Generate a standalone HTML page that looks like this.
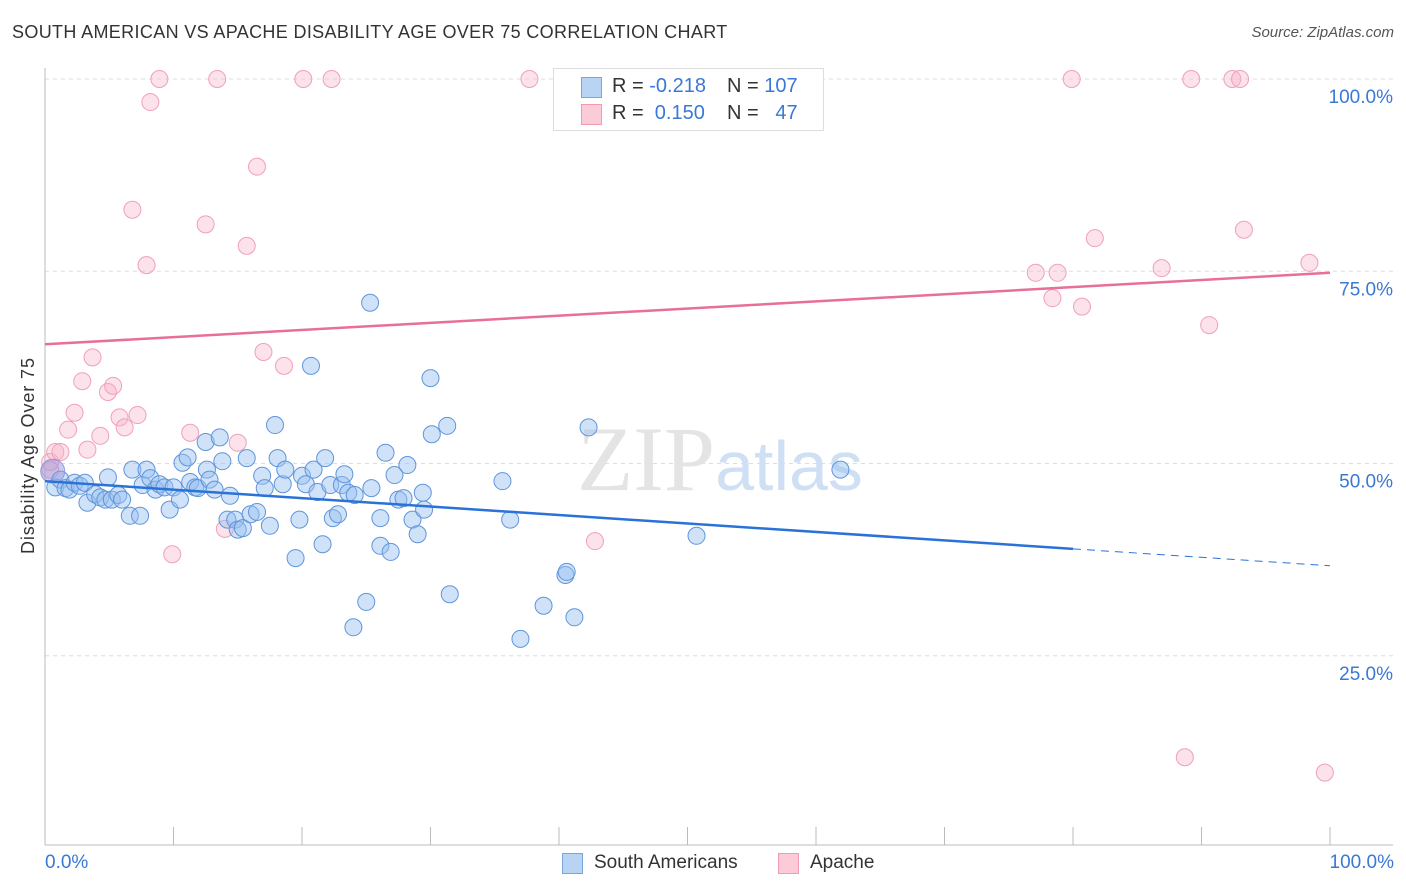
<!DOCTYPE html>
<html><head><meta charset="utf-8"><style>
body{margin:0;background:#fff;font-family:"Liberation Sans",sans-serif;}
#wrap{position:relative;width:1406px;height:892px;overflow:hidden}
.t{position:absolute;white-space:nowrap}
</style></head><body><div id="wrap">
<div class="t" style="left:12px;top:22px;font-size:18px;letter-spacing:0.35px;color:#333">SOUTH AMERICAN VS APACHE DISABILITY AGE OVER 75 CORRELATION CHART</div>
<div class="t" style="right:12px;top:24px;font-size:15px;color:#555;font-style:italic">Source: ZipAtlas.com</div>
<div class="t" style="font-size:18px;letter-spacing:0.9px;color:#333;transform:rotate(-90deg);transform-origin:0 0;left:18px;top:554px">Disability Age Over 75</div>
<svg id="svg" width="1406" height="892" style="position:absolute;left:0;top:0"></svg>
<div class="t" style="left:553px;top:68px;width:269px;height:61px;border:1px solid #ddd;background:#fff;font-size:20px">
 <div style="position:absolute;left:27px;top:8px;width:19px;height:19px;background:#b8d3f3;border:1px solid #7aa6e0"></div>
 <div class="t" style="left:58px;top:6px;color:#333">R = <span style="color:#3a78d6">-0.218</span></div>
 <div class="t" style="left:173px;top:6px;color:#333">N = <span style="color:#3a78d6">107</span></div>
 <div style="position:absolute;left:27px;top:35px;width:19px;height:19px;background:#fbcbd8;border:1px solid #f09ab3"></div>
 <div class="t" style="left:58px;top:33px;color:#333">R = &nbsp;<span style="color:#3a78d6">0.150</span></div>
 <div class="t" style="left:173px;top:33px;color:#333">N = &nbsp;&nbsp;<span style="color:#3a78d6">47</span></div>
</div>
<div class="t" style="left:562px;top:853px;width:19px;height:19px;background:#b8d3f3;border:1px solid #7aa6e0"></div>
<div class="t" style="left:594px;top:852px;font-size:19px;color:#333">South Americans</div>
<div class="t" style="left:778px;top:853px;width:19px;height:19px;background:#fbcbd8;border:1px solid #f09ab3"></div>
<div class="t" style="left:810px;top:852px;font-size:19px;color:#333">Apache</div>
<div class="t" style="left:45px;top:852px;font-size:19px;color:#3a78d6">0.0%</div>
<div class="t" style="right:12px;top:852px;font-size:19px;color:#3a78d6">100.0%</div>
</div>
<script>
const blueX=[0.8,1.2,1.6,1.9,2.3,2.7,3.1,3.3,3.9,4.3,4.7,4.9,5.2,5.7,6.0,6.6,6.8,7.4,7.6,7.9,8.2,8.6,8.9,9.3,9.7,10.0,10.5,10.7,11.1,11.3,11.7,11.9,12.5,12.6,12.8,13.2,13.6,13.8,14.2,14.4,14.8,15.0,15.4,15.7,16.0,16.5,16.9,17.1,17.5,17.9,18.1,18.5,18.7,19.5,19.8,20.0,20.3,20.7,20.9,21.2,21.6,21.8,22.2,22.4,22.8,23.1,23.3,23.6,24.1,24.0,25.0,25.3,25.4,26.1,26.1,26.5,26.9,27.2,27.5,27.9,28.2,28.6,29.0,29.4,29.5,30.0,30.1,31.3,31.5,35.6,36.2,37.0,38.8,40.5,40.6,41.2,42.3,50.7,61.9];
const blueY=[46.9,47.9,46.8,46.6,47.5,47.1,47.5,44.9,46.0,45.6,45.3,48.2,45.3,45.9,45.3,43.2,49.2,43.2,47.2,49.2,48.1,46.6,47.3,46.9,44.0,46.9,45.3,50.1,50.8,47.6,46.9,46.8,52.8,49.2,47.9,46.6,53.4,50.3,42.7,45.8,42.7,41.4,41.6,50.7,43.4,43.7,48.4,46.8,41.9,55.0,50.7,47.3,49.2,37.7,42.7,48.4,47.3,62.7,49.2,46.3,39.5,50.7,47.2,42.9,43.4,47.2,48.6,46.2,45.9,28.7,32.0,70.9,46.8,42.9,39.3,51.4,38.5,48.5,45.3,45.5,49.8,42.7,40.8,46.2,44.0,61.1,53.8,54.9,33.0,47.7,42.7,27.2,31.5,35.5,35.9,30.0,54.7,40.6,49.2];
const pinkX=[0.4,0.8,1.2,0.4,1.8,2.3,2.9,3.3,3.7,4.3,4.9,5.3,5.8,6.2,7.2,6.8,7.9,8.2,8.9,9.9,11.3,12.5,13.4,14.0,15.0,15.7,16.5,17.0,18.6,20.1,22.3,37.7,42.8,77.1,78.4,78.8,79.9,80.7,81.7,86.9,88.7,89.2,90.6,92.4,93.0,93.3,98.4,99.6];
const pinkY=[50.2,51.5,51.5,49.2,54.4,56.6,60.7,51.8,63.8,53.6,59.3,60.1,56.0,54.7,56.3,83.0,75.8,97.0,100,38.2,54.0,81.1,100,41.5,52.7,78.3,88.6,64.5,62.7,100,100,100,39.9,74.8,71.5,74.8,100,70.4,79.3,75.4,11.8,100,68.0,100,100,80.4,76.1,9.8];
const blueTrend=[47.7,36.7];
const pinkTrend=[65.5,74.8];
const yTicks=[25,50,75,100];
const yTickLabels=["25.0%","50.0%","75.0%","100.0%"];
const xTicks=[10,20,30,40,50,60,70,80,90,100];

const X=v=>45+v*12.85, Y=v=>848-v*7.69;
const svg=document.getElementById('svg'),NS='http://www.w3.org/2000/svg';
function mk(tag,attrs){const e=document.createElementNS(NS,tag);for(const k in attrs)e.setAttribute(k,attrs[k]);svg.appendChild(e);return e;}
yTicks.forEach((t,i)=>{
  const g=mk('line',{x1:45,x2:1393,y1:Y(t),y2:Y(t),stroke:'#ddd','stroke-dasharray':'4,4'});
  
  
  const tx=mk('text',{x:1393,y:Y(t)+24,'text-anchor':'end','font-size':19,fill:'#3a78d6','font-family':'Liberation Sans, sans-serif'});
  tx.textContent=yTickLabels[i];
  
  
});
const ax=mk('line',{x1:45,x2:45,y1:68,y2:845,stroke:'#bbb'});


const bx=mk('line',{x1:45,x2:1393,y1:845,y2:845,stroke:'#bbb'});


xTicks.forEach(t=>{const l=mk('line',{x1:X(t),x2:X(t),y1:827,y2:845,stroke:'#bbb'});
  
  });
const wm=mk('text',{x:720,y:490,'text-anchor':'middle','font-size':92,'font-family':'Liberation Serif, serif',fill:'#e4e4e4'});
wm.innerHTML='ZIP<tspan fill="#cfe0f5" font-family="Liberation Sans, sans-serif" font-size="70">atlas</tspan>';


pinkX.forEach((x,i)=>{const c=mk('circle',{cx:X(x),cy:Y(pinkY[i]),r:8.5,fill:'rgba(248,180,200,0.38)',stroke:'#f0a0b8','stroke-width':1});
  
  });
blueX.forEach((x,i)=>{const c=mk('circle',{cx:X(x),cy:Y(blueY[i]),r:8.5,fill:'rgba(150,190,240,0.45)',stroke:'#5f95dc','stroke-width':1});
  
  });
const big=mk('circle',{cx:X(0.6),cy:Y(49),r:12,fill:'rgba(150,150,220,0.5)',stroke:'#8a9ee0'});


const bAt=v=>blueTrend[0]+(blueTrend[1]-blueTrend[0])*v/100;
const bl=mk('line',{x1:X(0),y1:Y(bAt(0)),x2:X(80),y2:Y(bAt(80)),stroke:'#2a72d8','stroke-width':2.5});


const bd=mk('line',{x1:X(80),y1:Y(bAt(80)),x2:X(100),y2:Y(bAt(100)),stroke:'#2a72d8','stroke-width':1,'stroke-dasharray':'8,6'});


const pl=mk('line',{x1:X(0),y1:Y(pinkTrend[0]),x2:X(100),y2:Y(pinkTrend[1]),stroke:'#e86f98','stroke-width':2.5});


</script></body></html>
